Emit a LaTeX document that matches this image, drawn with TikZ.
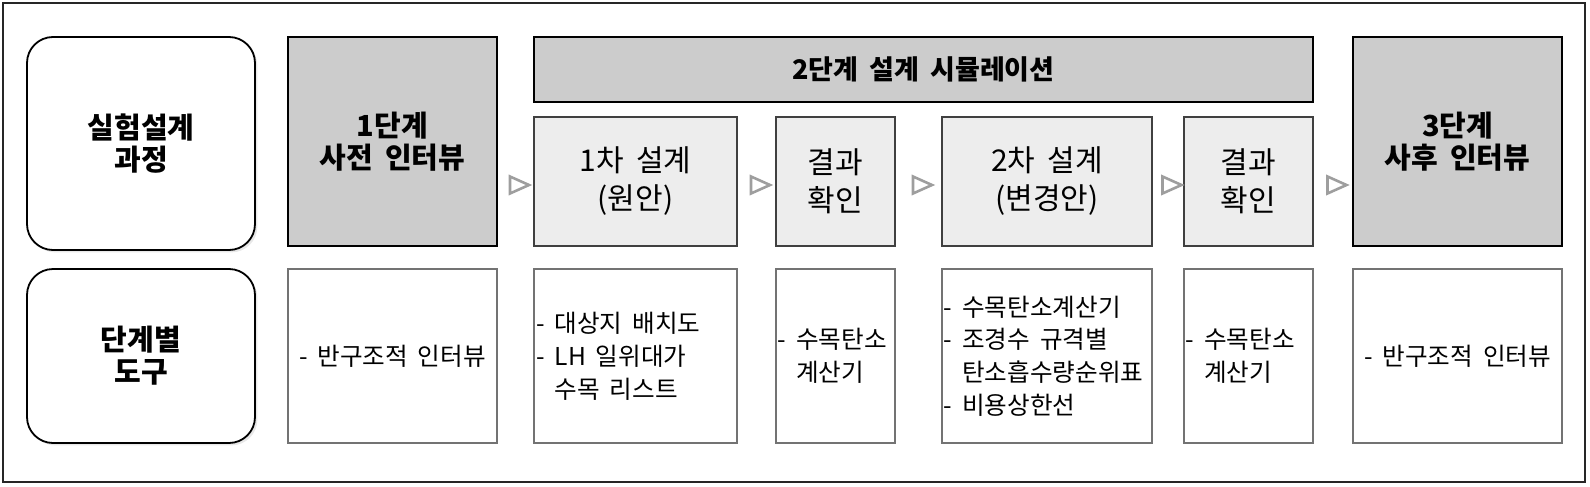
\documentclass[tikz,border=0pt]{standalone}
\usepackage{fontspec}
\setmainfont{Noto Sans CJK KR}[WordSpace=1.8]
\usetikzlibrary{shapes.geometric,shadows}
\newcommand\fntB{\bfseries\fontsize{14.5pt}{16pt}\selectfont}
\newcommand\fntH{\bfseries\fontsize{13.5pt}{16pt}\selectfont}
\newcommand\fntM{\fontsize{15pt}{19pt}\selectfont}
\newcommand\fntS{\fontsize{12.3pt}{16.4pt}\selectfont}
\begin{document}
\begin{tikzpicture}[x=0.5pt,y=-0.5pt,
  frame/.style={draw=black!85,line width=1.1pt},
  roundbox/.style={draw=black,line width=0.9pt,fill=white,rounded corners=13pt,
    drop shadow={shadow xshift=1.2pt,shadow yshift=-1.2pt,fill=black!18},
    align=center,inner sep=0pt,font=\fntB},
  darkbox/.style={draw=black,line width=1.1pt,fill=black!20,align=center,inner sep=0pt,font=\fntB},
  headbox/.style={draw=black,line width=1.1pt,fill=black!20,align=center,inner sep=0pt,font=\fntH},
  subbox/.style={draw=black!75,line width=0.6pt,fill=black!7,align=center,inner sep=0pt,font=\fntM},
  toolbox/.style={draw=black!55,line width=0.6pt,fill=white,align=center,inner sep=0pt,font=\fntS},
  tooltext/.style={align=left,inner sep=0pt,font=\fntS,anchor=west},
  tri/.style={isosceles triangle,isosceles triangle stretches,shape border rotate=0,
    draw=black!38,line width=1.3pt,fill=white,inner sep=0pt,minimum width=8.5pt,minimum height=9.5pt}
]
\useasboundingbox (0,0) rectangle (1590,487);
\draw[frame] (3,3) rectangle (1585,482);

% left labels
\node[roundbox,minimum width=114pt,minimum height=106.5pt] (r1) at (141,143.5) {실험설계\\과정};
\node[roundbox,minimum width=114pt,minimum height=87pt] (r2) at (141,356) {단계별\\도구};

% top row
\node[darkbox,minimum width=104.5pt,minimum height=104.5pt] (s1) at (392.5,141.5) {1단계\\사전 인터뷰};
\node[headbox,minimum width=389.5pt,minimum height=32.5pt] (hd) at (923.5,69.5) {2단계 설계 시뮬레이션};
\node[subbox,minimum width=101.5pt,minimum height=64.5pt] (a) at (635.5,181.5) {1차 설계\\(원안)};
\node[subbox,minimum width=59.5pt,minimum height=64.5pt] (b) at (835.5,181.5) {결과\\확인};
\node[subbox,minimum width=105pt,minimum height=64.5pt] (c) at (1047,181.5) {2차 설계\\(변경안)};
\node[subbox,minimum width=64.5pt,minimum height=64.5pt] (d) at (1248.5,181.5) {결과\\확인};
\node[darkbox,minimum width=104.5pt,minimum height=104.5pt] (s3) at (1457.5,141.5) {3단계\\사후 인터뷰};

% arrows
\node[tri] (t1) at (515.5,185) {};
\node[tri] (t2) at (756.5,185) {};
\node[tri] (t3) at (918.5,185) {};
\node[tri] (t4) at (1168,185) {};
\node[tri] (t5) at (1333,185) {};

% bottom row
\node[toolbox,minimum width=104.5pt,minimum height=87pt] (u1) at (392.5,356) {- 반구조적 인터뷰};
\node[toolbox,minimum width=101.5pt,minimum height=87pt] (u2) at (635.5,356) {};
\node[toolbox,minimum width=59.5pt,minimum height=87pt] (u3) at (835.5,356) {};
\node[toolbox,minimum width=105pt,minimum height=87pt] (u4) at (1047,356) {};
\node[toolbox,minimum width=64.5pt,minimum height=87pt] (u5) at (1248.5,356) {};
\node[toolbox,minimum width=104.5pt,minimum height=87pt] (u6) at (1457.5,356) {- 반구조적 인터뷰};

\node[tooltext] (x2) at ([xshift=1.2pt]u2.west) {- 대상지 배치도\\- LH 일위대가\\\phantom{-} 수목 리스트};
\node[tooltext] (x3) at ([xshift=1pt]u3.west) {- 수목탄소\\\phantom{-} 계산기};
\node[tooltext] (x4) at ([xshift=1pt]u4.west) {- 수목탄소계산기\\- 조경수 규격별\\\phantom{-} 탄소흡수량순위표\\- 비용상한선};
\node[tooltext] (x5) at ([xshift=1pt]u5.west) {- 수목탄소\\\phantom{-} 계산기};
\end{tikzpicture}
\end{document}
